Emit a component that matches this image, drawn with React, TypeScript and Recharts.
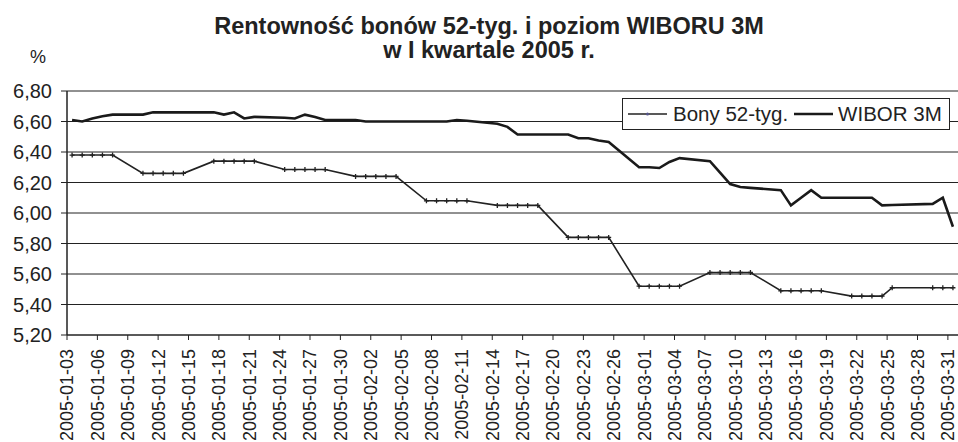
import React from 'react';
import { LineChart, Line, XAxis, YAxis, CartesianGrid, Legend } from 'recharts';

const FONT = '"Liberation Sans", Arial, Helvetica, sans-serif';

const chartTitle = ['Rentowność bonów 52-tyg. i poziom WIBORU 3M', 'w I kwartale 2005 r.'];
const unitLabel = '%';
const seriesNames = ['Bony 52-tyg.', 'WIBOR 3M'];

const tradingDays = [
  '2005-01-03', '2005-01-04', '2005-01-05', '2005-01-06', '2005-01-07',
  '2005-01-10', '2005-01-11', '2005-01-12', '2005-01-13', '2005-01-14',
  '2005-01-17', '2005-01-18', '2005-01-19', '2005-01-20', '2005-01-21',
  '2005-01-24', '2005-01-25', '2005-01-26', '2005-01-27', '2005-01-28',
  '2005-01-31', '2005-02-01', '2005-02-02', '2005-02-03', '2005-02-04',
  '2005-02-07', '2005-02-08', '2005-02-09', '2005-02-10', '2005-02-11',
  '2005-02-14', '2005-02-15', '2005-02-16', '2005-02-17', '2005-02-18',
  '2005-02-21', '2005-02-22', '2005-02-23', '2005-02-24', '2005-02-25',
  '2005-02-28', '2005-03-01', '2005-03-02', '2005-03-03', '2005-03-04',
  '2005-03-07', '2005-03-08', '2005-03-09', '2005-03-10', '2005-03-11',
  '2005-03-14', '2005-03-15', '2005-03-16', '2005-03-17', '2005-03-18',
  '2005-03-21', '2005-03-22', '2005-03-23', '2005-03-24', '2005-03-25',
  '2005-03-29', '2005-03-30', '2005-03-31',
];

const bonyValues = [
  6.38, 6.38, 6.38, 6.38, 6.38,
  6.26, 6.26, 6.26, 6.26, 6.26,
  6.34, 6.34, 6.34, 6.34, 6.34,
  6.285, 6.285, 6.285, 6.285, 6.285,
  6.24, 6.24, 6.24, 6.24, 6.24,
  6.08, 6.08, 6.08, 6.08, 6.08,
  6.05, 6.05, 6.05, 6.05, 6.05,
  5.84, 5.84, 5.84, 5.84, 5.84,
  5.52, 5.52, 5.52, 5.52, 5.52,
  5.61, 5.61, 5.61, 5.61, 5.61,
  5.49, 5.49, 5.49, 5.49, 5.49,
  5.455, 5.455, 5.455, 5.455, 5.51,
  5.51, 5.51, 5.51,
];

const wiborValues = [
  6.61, 6.6, 6.62, 6.635, 6.645,
  6.645, 6.66, 6.66, 6.66, 6.66,
  6.66, 6.645, 6.66, 6.62, 6.63,
  6.625, 6.62, 6.645, 6.63, 6.61,
  6.61, 6.6, 6.6, 6.6, 6.6,
  6.6, 6.6, 6.6, 6.61, 6.605,
  6.585, 6.565, 6.515, 6.515, 6.515,
  6.515, 6.49, 6.49, 6.475, 6.465,
  6.3, 6.3, 6.295, 6.335, 6.36,
  6.34, 6.265, 6.19, 6.17, 6.165,
  6.15, 6.05, 6.1, 6.15, 6.1,
  6.1, 6.1, 6.1, 6.05, 6.052,
  6.06, 6.1, 5.91,
];

const yTicks = [5.2, 5.4, 5.6, 5.8, 6.0, 6.2, 6.4, 6.6, 6.8];
const startDate = '2005-01-03';
const tickStepDays = 3;
const axisDays = 88;

const DAY = 86400000;
const toUtc = (s: string) => {
  const [y, m, d] = s.split('-').map(Number);
  return Date.UTC(y, m - 1, d);
};
const dayIndex = (s: string) => Math.round((toUtc(s) - toUtc(startDate)) / DAY);
const dayLabel = (i: number) => new Date(toUtc(startDate) + i * DAY).toISOString().slice(0, 10);

// each day occupies one slot on the date axis; points sit at slot centres
const bonyData = tradingDays.map((d, i) => ({ x: dayIndex(d) + 0.5, v: bonyValues[i] }));
const wiborData = tradingDays.map((d, i) => ({ x: dayIndex(d) + 0.5, v: wiborValues[i] }));
const xTicks: number[] = [];
for (let i = 0; i < axisDays; i += tickStepDays) xTicks.push(i);

const DateTick = (props: any) => {
  const { x, y, payload } = props;
  return (
    <g transform={`translate(${x},${y})`}>
      <text transform="rotate(-90)" x={0} y={0} dy="0.36em" textAnchor="end" fontSize={18} fill="#222" fontFamily={FONT}>
        {dayLabel(payload.value)}
      </text>
    </g>
  );
};

const PlusDot = (props: any) => {
  const { cx, cy, index } = props;
  if (cx == null || cy == null) return <g key={`d${index}`} />;
  return (
    <path
      key={`d${index}`}
      d={`M${cx - 2.5},${cy}H${cx + 2.5}M${cx},${cy - 2.5}V${cy + 2.5}`}
      stroke="#222"
      strokeWidth={1.3}
      fill="none"
    />
  );
};

const LegendBox = () => (
  <div
    style={{
      width: 328,
      height: 32,
      boxSizing: 'border-box',
      border: '1px solid #222',
      background: '#fff',
      display: 'flex',
      alignItems: 'center',
      fontFamily: FONT,
      fontSize: 20.5,
      color: '#222',
      paddingLeft: 5,
    }}
  >
    <svg width={39} height={10} style={{ display: 'block' }}>
      <line x1={0} y1={5} x2={39} y2={5} stroke="#222" strokeWidth={1.6} />
      <circle cx={19.5} cy={5} r={1.5} fill="#55558a" />
    </svg>
    <span style={{ marginLeft: 6, whiteSpace: 'nowrap' }}>{seriesNames[0]}</span>
    <svg width={39} height={10} style={{ display: 'block', marginLeft: 6 }}>
      <line x1={0} y1={5} x2={39} y2={5} stroke="#1a1a1a" strokeWidth={2.6} />
    </svg>
    <span style={{ marginLeft: 5, whiteSpace: 'nowrap' }}>{seriesNames[1]}</span>
  </div>
);

export default function App() {
  return (
    <div style={{ position: 'absolute', left: 0, top: 0, width: 958, height: 442, background: '#fff', overflow: 'hidden' }}>
      <div
        style={{
          position: 'absolute',
          left: 189,
          top: 15,
          width: 600,
          textAlign: 'center',
          fontFamily: FONT,
          fontWeight: 'bold',
          fontSize: 23.5,
          lineHeight: '23.5px',
          color: '#222',
          zIndex: 2,
        }}
      >
        <div>{chartTitle[0]}</div>
        <div>{chartTitle[1]}</div>
      </div>
      <div
        style={{
          position: 'absolute',
          left: 30,
          top: 48,
          fontFamily: FONT,
          fontSize: 18,
          lineHeight: '18px',
          color: '#222',
          zIndex: 2,
        }}
      >
        {unitLabel}
      </div>
      <LineChart width={958} height={442} margin={{ top: 91, right: 0, bottom: 0, left: 0 }}>
        <CartesianGrid vertical={false} stroke="#222" strokeWidth={1} />
        <XAxis
          type="number"
          dataKey="x"
          domain={[0, axisDays]}
          ticks={xTicks}
          interval={0}
          height={107}
          tickSize={5}
          tickMargin={9}
          tick={<DateTick />}
          axisLine={{ stroke: '#222', strokeWidth: 1 }}
          tickLine={{ stroke: '#222', strokeWidth: 1 }}
          allowDataOverflow
        />
        <YAxis
          type="number"
          domain={[5.2, 6.8]}
          ticks={yTicks}
          interval={0}
          width={67}
          tickSize={6}
          tickMargin={9}
          tickFormatter={(v: number) => v.toFixed(2).replace('.', ',')}
          tick={{ fontSize: 20, fill: '#222', fontFamily: FONT }}
          axisLine={{ stroke: '#222', strokeWidth: 1.5 }}
          tickLine={{ stroke: '#222', strokeWidth: 1 }}
          allowDataOverflow
        />
        <Legend
          layout="horizontal"
          verticalAlign="middle"
          align="center"
          wrapperStyle={{ position: 'absolute', left: 622, top: 98, width: 328, height: 32 }}
          content={() => <LegendBox />}
        />
        <Line
          data={bonyData}
          dataKey="v"
          name={seriesNames[0]}
          type="linear"
          stroke="#222"
          strokeWidth={1.6}
          dot={(p: any) => <PlusDot key={`b${p.index}`} {...p} />}
          activeDot={false}
          isAnimationActive={false}
        />
        <Line
          data={wiborData}
          dataKey="v"
          name={seriesNames[1]}
          type="linear"
          stroke="#1a1a1a"
          strokeWidth={2.6}
          dot={false}
          activeDot={false}
          isAnimationActive={false}
        />
      </LineChart>
    </div>
  );
}
